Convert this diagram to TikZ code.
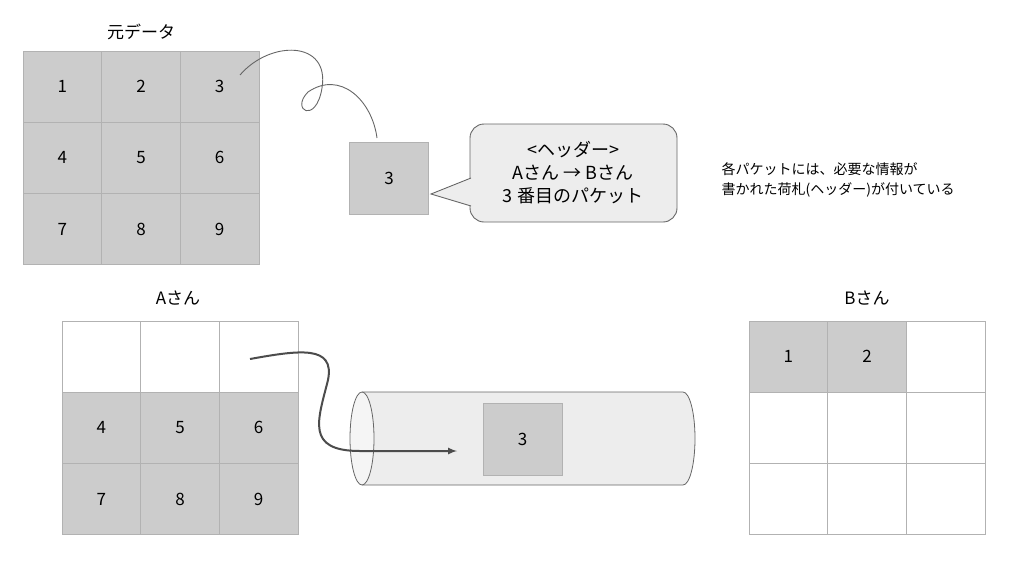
\documentclass[tikz,border=0pt]{standalone}
\usepackage{fontspec}
\setmainfont{Noto Sans CJK JP}
\begin{document}
\begin{tikzpicture}[x=1pt,y=-1pt,
  g/.style={draw=black!30,fill=black!20,minimum width=78.7pt,minimum height=71.3pt,inner sep=0,font=\fontsize{17}{17}\selectfont,line width=0.8pt},
  w/.style={g,fill=white},
  lbl/.style={font=\fontsize{17}{17}\selectfont}]
\useasboundingbox (0,0) rectangle (1024,576);
% original data
\foreach \n [count=\i from 0] in {1,...,9}{
  \pgfmathtruncatemacro\c{mod(\i,3)}\pgfmathtruncatemacro\r{div(\i,3)}
  \node[g] (o\n) at (62.3+78.7*\c,86.6+71.3*\r) {\n};}
\node[lbl] (t1) at (141,32) {元データ};
% A grid
\foreach \n [count=\i from 0] in {1,...,9}{
  \pgfmathtruncatemacro\c{mod(\i,3)}\pgfmathtruncatemacro\r{div(\i,3)}
  \ifnum\r=0 \node[w] (a\n) at (101.3+78.7*\c,356.6+71.3*\r) {};
  \else \node[g] (a\n) at (101.3+78.7*\c,356.6+71.3*\r) {\n};\fi}
\node[lbl] (ta) at (178,298) {Aさん};
% B grid
\foreach \n [count=\i from 0] in {1,...,9}{
  \pgfmathtruncatemacro\c{mod(\i,3)}\pgfmathtruncatemacro\r{div(\i,3)}
  \ifnum\i<2 \node[g] (b\n) at (788.3+78.7*\c,356.6+71.3*\r) {\n};
  \else \node[w] (b\n) at (788.3+78.7*\c,356.6+71.3*\r) {};\fi}
\node[lbl] (tb) at (867,298) {Bさん};
% packet
\node[g] (p) at (389,178.5) {3};
\draw[black!60,line width=0.9pt] (240,75) .. controls (270,40) and (330,40) .. (322,88)
  .. controls (316,125) and (290,110) .. (308,92)
  .. controls (340,70) and (372,100) .. (377,138);
% callout
\draw[black!60,fill=black!7,line width=0.9pt,rounded corners=14pt]
  (470,124) rectangle (677,222);
\fill[black!7] (471,178) -- (431,194) -- (471,206) -- cycle;
\draw[black!60,line width=0.9pt] (471,178) -- (431,194) -- (471,206);
\node[font=\fontsize{18}{23}\selectfont,align=center] (c) at (573,173) {<ヘッダー>\\Aさん → Bさん\\3 番目のパケット};
\node[font=\fontsize{14}{20}\selectfont,align=left,anchor=west] (note) at (718,180) {各パケットには、必要な情報が\\書かれた荷札(ヘッダー)が付いている};
% tube
\draw[black!60,fill=black!7,line width=0.8pt] (362,392) -- (683,392) arc[start angle=-90,end angle=90,x radius=12,y radius=46.5] -- (362,485);
\draw[black!60,fill=black!4,line width=0.8pt] (362,438.5) ellipse[x radius=12,y radius=46.5];
\node[g,minimum width=79pt,minimum height=72pt] (p2) at (522.5,439) {3};
\coordinate (s) at (250,359);
\coordinate (e) at (457,451);
\draw[black!70,line width=2pt,-latex] (s) .. controls (300,350) and (335,345) .. (328,380)
  .. controls (318,420) and (305,451) .. (360,451) -- (e);
\end{tikzpicture}
\end{document}
